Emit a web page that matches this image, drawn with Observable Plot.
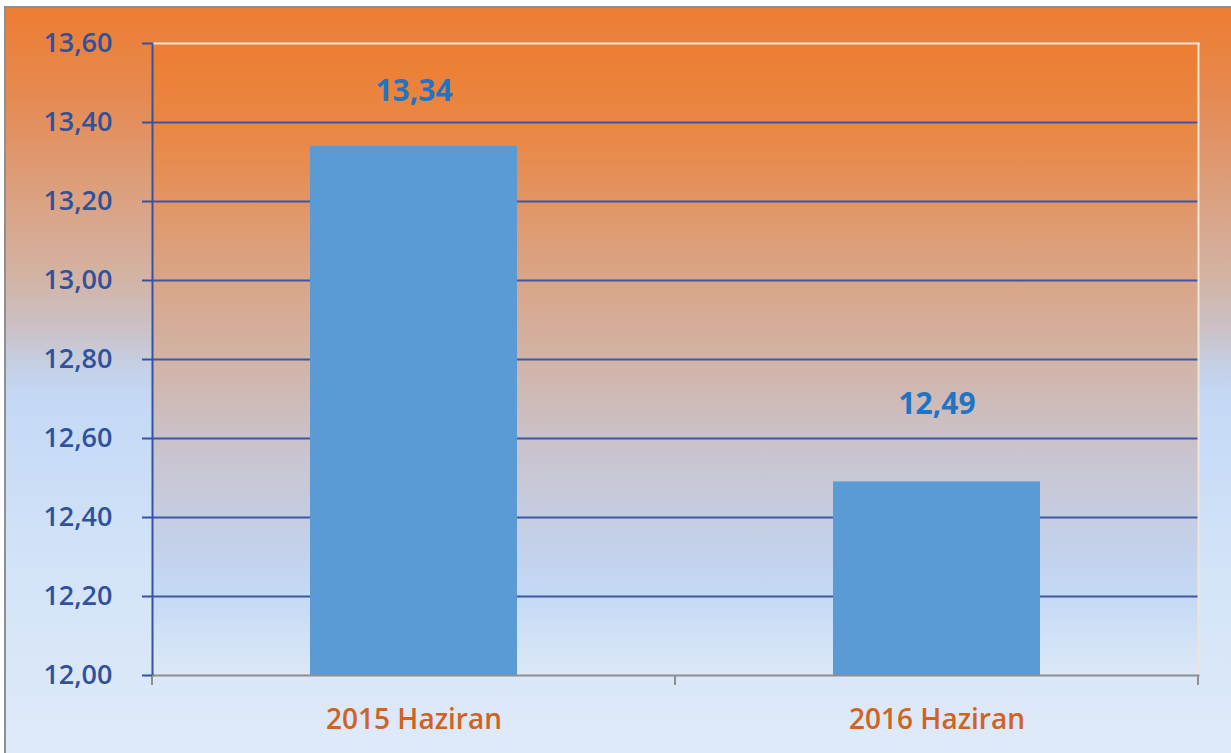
<!DOCTYPE html>
<html>
<head>
<meta charset="utf-8">
<script src="https://cdn.jsdelivr.net/npm/d3@7"></script>
<script src="https://cdn.jsdelivr.net/npm/@observablehq/plot@0.6"></script>
<style>
  html, body { margin: 0; padding: 0; background: #ffffff; overflow: hidden; }
  #chart {
    position: absolute; left: 4px; top: 6px;
    width: 1225px; height: 745px;
    border-top: 2px solid #8f8f8f; border-left: 2px solid #8f8f8f;
    background: linear-gradient(to bottom, #ed7d31 0%, #e68a52 12%, #dba283 26%, #d3b3a3 36%, #cbc1c6 43%, #c4d2ea 49%, #c4d9f5 53%, #d3e3f8 75%, #dfeaf9 100%);
  }
</style>
</head>
<body>
<div id="chart"></div>
<script>
const categories = ["2015 Haziran", "2016 Haziran"];
const values = [13.34, 12.49];
const yTicks = [12.0, 12.2, 12.4, 12.6, 12.8, 13.0, 13.2, 13.4, 13.6];
const yMin = 12.0;
const yMax = 13.6;

const fmt = d => d.toFixed(2).replace(".", ",");
const data = categories.map((c, i) => ({category: c, value: values[i]}));

const gradientDefs = () => {
  const g = d3.create("svg:g");
  const lg = g.append("defs").append("linearGradient")
    .attr("id", "frameGrad").attr("x1", 0).attr("y1", 0).attr("x2", 0).attr("y2", 1);
  [["0%", "#ed7d31"], ["17%", "#e88a4c"], ["33%", "#dca07c"], ["49%", "#d3b2a4"],
   ["65%", "#c9c4cf"], ["82%", "#c3d3ee"], ["88%", "#c6daf5"], ["100%", "#dce8f8"]]
    .forEach(([o, c]) => lg.append("stop").attr("offset", o).attr("stop-color", c));
  return g.node();
};

const xBoundaryTicks = (index, scales, vals, dim) => {
  const g = d3.create("svg:g");
  const {width, marginLeft, marginRight} = dim;
  const n = categories.length;
  const y0 = scales.y(yMin);
  for (let i = 0; i <= n; i++) {
    const x = marginLeft + i * (width - marginLeft - marginRight) / n;
    g.append("line").attr("x1", x).attr("x2", x).attr("y1", y0).attr("y2", y0 + 10)
      .attr("stroke", "#8e8e8e").attr("stroke-width", 2);
  }
  return g.node();
};

const chart = Plot.plot({
  width: 1225,
  height: 745,
  marginLeft: 146,
  marginRight: 33,
  marginTop: 35,
  marginBottom: 78,
  style: {background: "transparent", fontFamily: "'Open Sans', sans-serif"},
  x: {domain: categories, paddingInner: 0.604, paddingOuter: 0.302},
  y: {domain: [yMin, yMax]},
  marks: [
    gradientDefs,
    Plot.frame({fill: "url(#frameGrad)", stroke: null}),
    Plot.gridY(yTicks.filter(t => t > yMin && t < yMax), {stroke: "#3d56a6", strokeOpacity: 1, strokeWidth: 2}),
    Plot.frame({anchor: "top", stroke: "#efe4d8", strokeWidth: 2}),
    Plot.frame({anchor: "right", stroke: "#efe4d8", strokeWidth: 2}),
    Plot.barY(data, {x: "category", y1: yMin, y2: "value", fill: "#5b9bd5"}),
    Plot.frame({anchor: "bottom", stroke: "#8e8e8e", strokeWidth: 2}),
    Plot.frame({anchor: "left", stroke: "#3553a3", strokeWidth: 2}),
    xBoundaryTicks,
    Plot.axisY(yTicks, {
      tickFormat: fmt, tickSize: 10, tickPadding: 30, label: null,
      stroke: "#3553a3", strokeWidth: 2, fill: "#30529c",
      fontSize: 27, fontWeight: 600
    }),
    Plot.axisX({
      tickSize: 0, tickPadding: 34, label: null,
      fill: "#d2621f", fontSize: 28, fontWeight: 600
    }),
    Plot.text(data.filter((d, i) => i === 0), {
      x: "category", y: "value", text: d => fmt(d.value),
      dy: -55, lineAnchor: "middle", fill: "#1f74c4", fontSize: 30, fontWeight: 700
    }),
    Plot.text(data.filter((d, i) => i === 1), {
      x: "category", y: "value", text: d => fmt(d.value),
      dy: -78, lineAnchor: "middle", fill: "#1f74c4", fontSize: 30, fontWeight: 700
    })
  ]
});

document.getElementById("chart").appendChild(chart);
</script>
</body>
</html>
